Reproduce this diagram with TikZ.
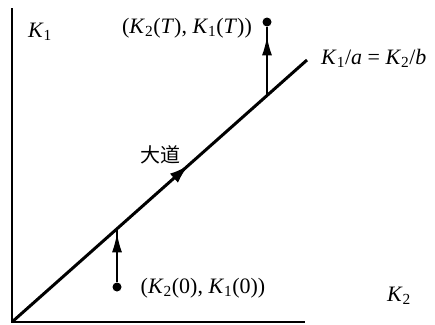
\documentclass[tikz,border=0pt]{standalone}
\usepackage{fontspec}
\setmainfont{Liberation Serif}
\newfontfamily\cjk{Noto Sans CJK SC}
\usetikzlibrary{arrows.meta,decorations.markings}
\newcommand\Kv[1]{\textit{K}\textsubscript{#1}}
\begin{document}
\begin{tikzpicture}[x=1pt,y=-1pt,
  axis/.style={line width=2.4pt},
  road/.style={line width=3pt},
  lab/.style={font=\fontsize{22}{26}\selectfont, inner sep=0pt},
  dotpt/.style={circle, fill=black, inner sep=0pt, minimum size=9pt},
  vec/.style={line width=1.6pt, postaction={decorate},
    decoration={markings, mark=at position #1 with {\arrow{Latex[length=19pt,width=10pt]}}}}
]
\useasboundingbox (0,0) rectangle (435,324);
\coordinate (O) at (12,322);
\coordinate (Ytop) at (12,8);
\coordinate (Xend) at (305,322);
\coordinate (E) at (307,60);
\coordinate (A) at (117,229);
\coordinate (B) at (267,96);
\node[dotpt] (D0) at (117,287) {};
\node[dotpt] (DT) at (267,22) {};
\draw[axis] (Ytop) -- (O) -- (Xend);
\draw[road, postaction={decorate},
  decoration={markings, mark=at position 0.6 with {\arrow{Latex[length=20pt,width=12pt]}}}]
  (O) -- (E);
\draw[vec=0.92] (D0) -- (A);
\draw[vec=0.86] (B) -- (DT.south);
\node[lab] (k1) at (40,32) {\Kv{1}};
\node[lab] (k2) at (399,296) {\Kv{2}};
\node[lab] (kt) at (187,28) {(\Kv{2}(\textit{T}), \Kv{1}(\textit{T}))};
\node[lab] (k0) at (203,288) {(\Kv{2}(0), \Kv{1}(0))};
\node[lab, anchor=west] (eq) at (321,58) {\Kv{1}/\textit{a} = \Kv{2}/\textit{b}};
\node[lab, font=\fontsize{20}{22}\selectfont\cjk] (dd) at (160,155) {大道};
\end{tikzpicture}
\end{document}
